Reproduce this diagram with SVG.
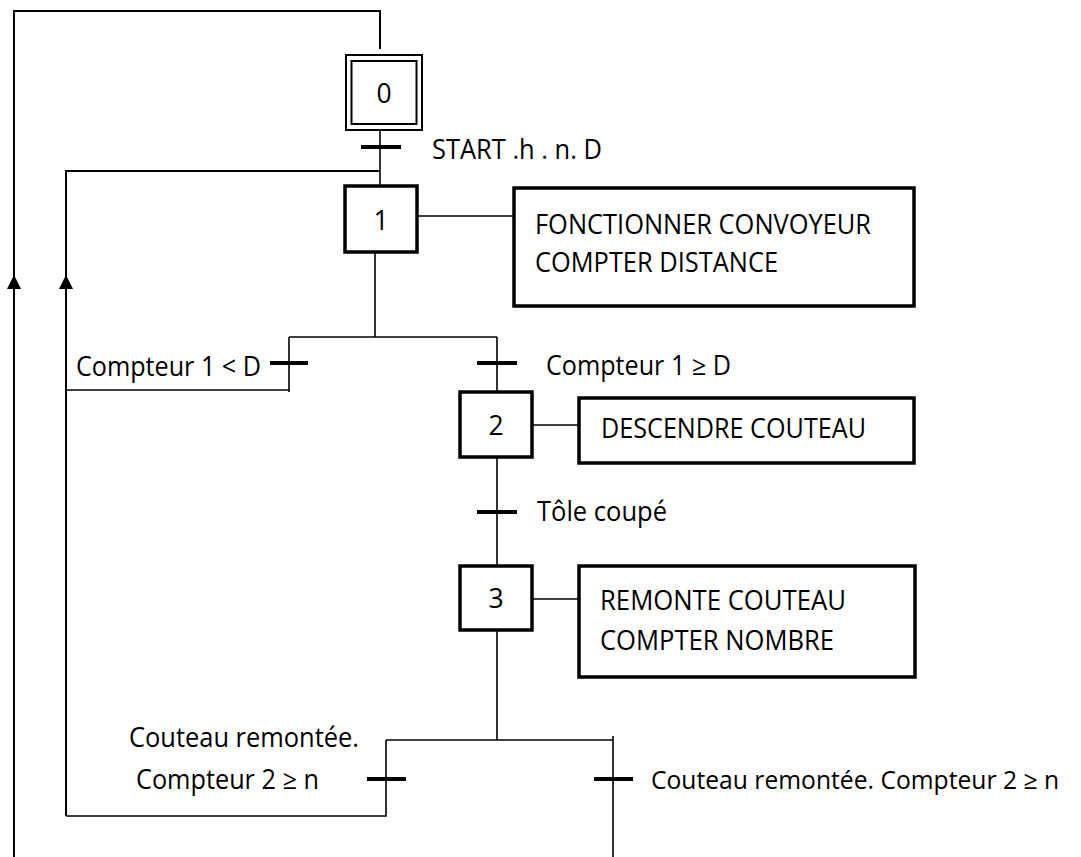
<svg xmlns="http://www.w3.org/2000/svg" width="1081" height="857" viewBox="0 0 1081 857">
<style>
.ln{fill:none;stroke:#000;stroke-width:1.6}
.lw{fill:none;stroke:#000;stroke-width:2}
.bar{fill:none;stroke:#000;stroke-width:4}
.step{fill:#fff;stroke:#000;stroke-width:3.5}
.act{fill:#fff;stroke:#000;stroke-width:3.5}
.dbl{fill:#fff;stroke:#000;stroke-width:2}
.arr{fill:#000}
text{font-family:"Open Sans","Liberation Sans",sans-serif;font-size:26.5px;fill:#000}
.num{text-anchor:middle}
.sm{font-size:25px}
</style>
<rect width="1081" height="857" fill="#fff"/>
<g id="connectors">
<path class="lw" d="M14,857 V11 H380 V49"/>
<path class="arr" d="M7,289 L14,275 L21,289 Z"/>
<path class="lw" d="M66,816 V171 H380"/>
<path class="arr" d="M59,289 L66,275 L73,289 Z"/>
<path class="ln" d="M380,130 V186"/>
<path class="bar" d="M361,147 H401"/>
<path class="ln" d="M417,216 H514"/>
<path class="ln" d="M375,252 V337"/>
<path class="ln" d="M289,337 H497"/>
<path class="ln" d="M289,337 V392"/>
<path class="bar" d="M270,363 H308"/>
<path class="ln" d="M66,390 H289"/>
<path class="ln" d="M497,337 V392"/>
<path class="bar" d="M477,363 H517"/>
<path class="ln" d="M532,425 H579"/>
<path class="ln" d="M497,457 V566"/>
<path class="bar" d="M477,512 H517"/>
<path class="ln" d="M532,599 H579"/>
<path class="ln" d="M497,630 V740"/>
<path class="ln" d="M386,740 H613"/>
<path class="ln" d="M613,736 V857"/>
<path class="ln" d="M386,740 V816 H66"/>
<path class="bar" d="M367,779 H406"/>
<path class="bar" d="M594,779 H633"/>
</g>
<g id="step0">
<rect class="dbl" x="346" y="55" width="76" height="75"/>
<rect class="dbl" x="351.5" y="61" width="65" height="63"/>
<text class="num" x="384" y="102.5">0</text>
</g>
<g id="t01"><text x="432" y="158.5" textLength="170" lengthAdjust="spacingAndGlyphs">START .h . n. D</text></g>
<g id="step1">
<rect class="step" x="345" y="186" width="72" height="66"/>
<text class="num" x="381" y="229.5">1</text>
</g>
<g id="action1">
<rect class="act" x="514" y="188" width="400" height="118"/>
<text x="535" y="233.5" textLength="336" lengthAdjust="spacingAndGlyphs">FONCTIONNER CONVOYEUR</text>
<text x="535" y="271.5" textLength="243" lengthAdjust="spacingAndGlyphs">COMPTER DISTANCE</text>
</g>
<g id="t11"><text x="76" y="375.5" textLength="185" lengthAdjust="spacingAndGlyphs">Compteur 1 &lt; D</text></g>
<g id="t12"><text x="546" y="374.5" textLength="185" lengthAdjust="spacingAndGlyphs">Compteur 1 ≥ D</text></g>
<g id="step2">
<rect class="step" x="460" y="392" width="72" height="65"/>
<text class="num" x="496" y="434.5">2</text>
</g>
<g id="action2">
<rect class="act" x="579" y="398" width="335" height="65"/>
<text x="601" y="437.5" textLength="265" lengthAdjust="spacingAndGlyphs">DESCENDRE COUTEAU</text>
</g>
<g id="t23"><text x="537" y="521" textLength="130" lengthAdjust="spacingAndGlyphs">Tôle coupé</text></g>
<g id="step3">
<rect class="step" x="460" y="566" width="72" height="64"/>
<text class="num" x="496" y="607.5">3</text>
</g>
<g id="action3">
<rect class="act" x="579" y="566" width="336" height="111"/>
<text x="600" y="609.5" textLength="246" lengthAdjust="spacingAndGlyphs">REMONTE COUTEAU</text>
<text x="600" y="649.5" textLength="234" lengthAdjust="spacingAndGlyphs">COMPTER NOMBRE</text>
</g>
<g id="t31">
<text x="129" y="746.5" textLength="230" lengthAdjust="spacingAndGlyphs">Couteau remontée.</text>
<text x="136" y="788.5" textLength="183" lengthAdjust="spacingAndGlyphs">Compteur 2 ≥ n</text>
</g>
<g id="t30"><text class="sm" x="651" y="789" textLength="408" lengthAdjust="spacingAndGlyphs">Couteau remontée. Compteur 2 ≥ n</text></g>
</svg>
